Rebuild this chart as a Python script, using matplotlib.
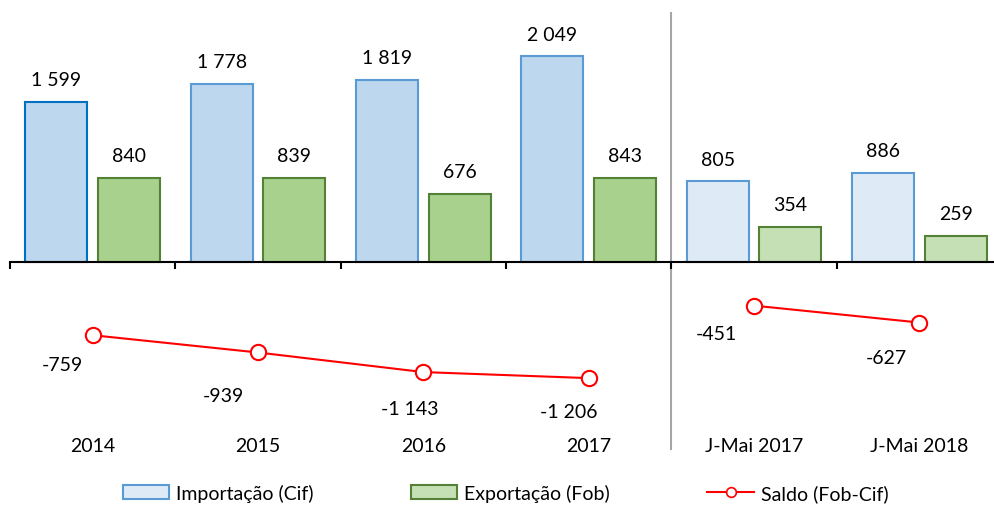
import numpy as np
import matplotlib.pyplot as plt
from matplotlib.patches import Patch
from matplotlib.lines import Line2D

plt.rcParams['font.family'] = ['Lato', 'DejaVu Sans']

categorias = ['2014', '2015', '2016', '2017', 'J-Mai 2017', 'J-Mai 2018']
importacao = [1599, 1778, 1819, 2049, 805, 886]
exportacao = [840, 839, 676, 843, 354, 259]
saldo = [-759, -939, -1143, -1206, -451, -627]


def fmt(v):
    # separador de milhares com espaco
    return f'{v:,}'.replace(',', ' ')


fig = plt.figure(figsize=(9.95, 5.06), dpi=100)
ax = fig.add_axes([0.01, 0.15, 0.997, 0.84])
ax2 = ax.twinx()

x = np.arange(len(categorias))
w = 0.375
d = 0.22

imp_face = ['#BDD7EE'] * 4 + ['#DEEBF7'] * 2
imp_edge = ['#0070C0'] + ['#5B9BD5'] * 5
exp_face = ['#A9D18E'] * 4 + ['#C5E0B4'] * 2

ax.bar(x - d, importacao, w, color=imp_face, edgecolor=imp_edge, linewidth=1.5, zorder=2)
ax.bar(x + d, exportacao, w, color=exp_face, edgecolor='#538135', linewidth=1.5, zorder=2)

for i in range(len(x)):
    ax.annotate(fmt(importacao[i]), (x[i] - d, importacao[i]), xytext=(0, 10),
                textcoords='offset points', ha='center', va='bottom', fontsize=14)
    ax.annotate(fmt(exportacao[i]), (x[i] + d, exportacao[i]), xytext=(0, 10),
                textcoords='offset points', ha='center', va='bottom', fontsize=14)

# saldo: eixo secundario, dois segmentos separados
ax2.plot(x[:4], saldo[:4], '-o', color='#FF0000', lw=1.5, ms=11, mfc='white', mew=1.5, zorder=3)
ax2.plot(x[4:], saldo[4:], '-o', color='#FF0000', lw=1.5, ms=11, mfc='white', mew=1.5, zorder=3)

offs = [(-22, -21), (-25, -31), (-10, -26), (-14, -24), (-27, -20), (-24, -25)]
for i in range(len(x)):
    ax2.annotate(fmt(saldo[i]), (x[i], saldo[i]), xytext=offs[i],
                 textcoords='offset points', ha='center', va='center', fontsize=14)

for i, c in enumerate(categorias):
    ax.annotate(c, xy=(x[i], 1 - 447 / 506), xycoords=('data', 'figure fraction'),
                ha='center', va='center', fontsize=14)

# linha separadora
ax.plot([3.5, 3.5], [2480, -1860], color='#A6A6A6', lw=1.5, clip_on=False, zorder=1)

ax.set_xlim(-0.5, 5.5)
ax.set_ylim(-1660, 2570)
ax2.set_ylim(-1737, 2690)
for a in (ax, ax2):
    a.spines[['top', 'right', 'left']].set_visible(False)
    a.set_yticks([])
ax2.spines['bottom'].set_visible(False)
ax.spines['bottom'].set_position(('data', 0))
ax.spines['bottom'].set_linewidth(1.5)
ax.set_xticks(np.arange(-0.5, 5.6, 1))
ax.set_xticklabels([])
ax.tick_params(axis='x', direction='out', length=5, width=1.5)

handles = [
    Patch(facecolor='#DEEBF7', edgecolor='#5B9BD5', linewidth=1.5),
    Patch(facecolor='#C5E0B4', edgecolor='#538135', linewidth=1.5),
    Line2D([], [], color='#FF0000', lw=1.5, marker='o', ms=7, mfc='white', mew=1.2),
]
fig.legend(handles, ['Importação (Cif)', 'Exportação (Fob)', 'Saldo (Fob-Cif)'],
           loc='lower center', bbox_to_anchor=(0.508, -0.028), ncol=3, frameon=False,
           fontsize=14, columnspacing=5.0, handlelength=2.4, handletextpad=0.35)

fig.savefig('out.png', dpi=100)
